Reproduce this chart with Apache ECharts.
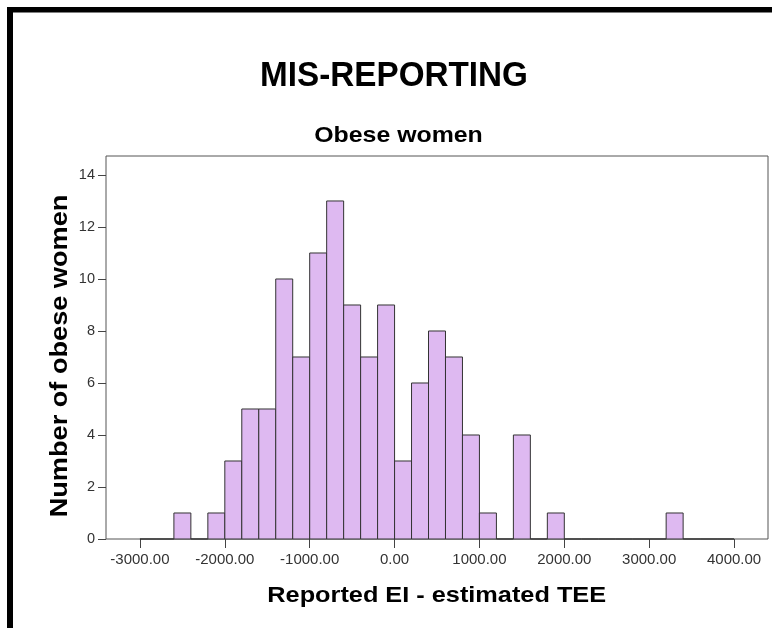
<!DOCTYPE html>
<html>
<head>
<meta charset="utf-8">
<script src="https://cdn.jsdelivr.net/npm/echarts@6/dist/echarts.min.js"></script>
<style>
html,body{margin:0;padding:0;background:#fff;}
#chart{width:772px;height:628px;}
</style>
</head>
<body>
<div id="chart"></div>
<script>
// Histogram bins (lower edge, width 200) and counts
var binLower = [-3000,-2800,-2600,-2400,-2200,-2000,-1800,-1600,-1400,-1200,-1000,-800,-600,-400,-200,
                0,200,400,600,800,1000,1200,1400,1600,1800,2000,2200,2400,2600,2800,3000,3200,3400,3600,3800];
var binUpper = [-2800,-2600,-2400,-2200,-2000,-1800,-1600,-1400,-1200,-1000,-800,-600,-400,-200,0,
                200,400,600,800,1000,1200,1400,1600,1800,2000,2200,2400,2600,2800,3000,3200,3400,3600,3800,4000];
var counts = [0,0,1,0,1,3,5,5,10,7,11,13,9,7,9,3,6,8,7,4,1,0,4,0,1,0,0,0,0,0,0,1,0,0,0];
var xTicks = [-3000,-2000,-1000,0,1000,2000,3000,4000];
var yTicks = [0,2,4,6,8,10,12,14];

var FONT = '"Liberation Sans", Arial, sans-serif';
var data = binLower.map(function(v,i){ return [v, binUpper[i], counts[i]]; });

var chart = echarts.init(document.getElementById('chart'), null, {renderer:'canvas'});
chart.setOption({
  animation:false,
  backgroundColor:'#fff',
  grid:{left:106, top:156, right:4, bottom:89, show:true, borderColor:'#555', borderWidth:1, containLabel:false},
  xAxis:{
    type:'value', min:-3400, max:4400,
    splitLine:{show:false},
    axisLine:{show:false, onZero:false},
    axisTick:{show:true, inside:false, length:9, lineStyle:{color:'#444', width:1}, customValues:xTicks},
    axisLabel:{show:true, margin:13, fontSize:15, fontFamily:FONT, color:'#333', customValues:xTicks,
      formatter:function(v){ return v.toFixed(2); }}
  },
  yAxis:{
    type:'value', min:0, max:14.73,
    splitLine:{show:false},
    axisLine:{show:false, onZero:false},
    axisTick:{show:true, inside:false, length:8, lineStyle:{color:'#444', width:1}, customValues:yTicks},
    axisLabel:{show:true, margin:11, fontSize:14.5, fontFamily:FONT, color:'#333', customValues:yTicks}
  },
  series:[{
    type:'custom',
    data:data,
    encode:{x:[0,1], y:2},
    renderItem:function(params, api){
      var p0 = api.coord([api.value(0), api.value(2)]);
      var p1 = api.coord([api.value(1), 0]);
      return {
        type:'rect',
        shape:{x:p0[0], y:p0[1], width:p1[0]-p0[0], height:p1[1]-p0[1]},
        style:{fill:'#DEB9F1', stroke:'#333', lineWidth:1}
      };
    }
  }],
  graphic:[
    {type:'rect', left:7, top:7, shape:{width:765, height:5.5}, style:{fill:'#000'}},
    {type:'rect', left:7, top:7, shape:{width:6, height:621}, style:{fill:'#000'}},
    {type:'text', x:394, y:76, scaleX:0.95,
      style:{text:'MIS-REPORTING', font:'bold 35px '+FONT, fill:'#000', textAlign:'center', textVerticalAlign:'middle'}},
    {type:'text', x:398.5, y:136, scaleX:1.13,
      style:{text:'Obese women', font:'bold 22px '+FONT, fill:'#000', textAlign:'center', textVerticalAlign:'middle'}},
    {type:'text', x:436.7, y:596, scaleX:1.15,
      style:{text:'Reported EI - estimated TEE', font:'bold 22px '+FONT, fill:'#000', textAlign:'center', textVerticalAlign:'middle'}},
    {type:'text', x:61, y:356, rotation:Math.PI/2, scaleX:1.18,
      style:{text:'Number of obese women', font:'bold 23px '+FONT, fill:'#000', textAlign:'center', textVerticalAlign:'middle'}}
  ]
});
</script>
</body>
</html>
